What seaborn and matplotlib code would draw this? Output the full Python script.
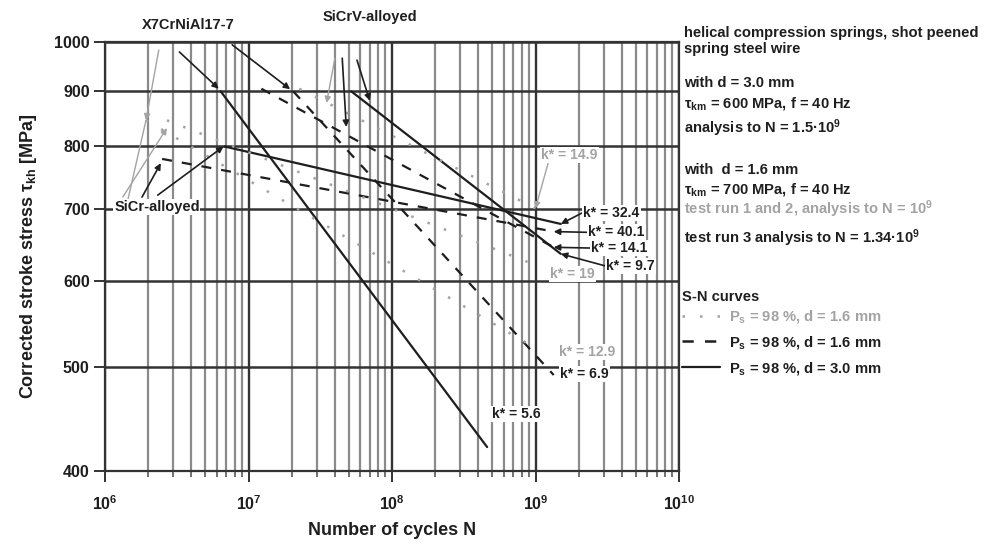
import numpy as np
import pandas as pd
import matplotlib
matplotlib.use("Agg")
import matplotlib.pyplot as plt
import seaborn as sns
from matplotlib.lines import Line2D
from matplotlib.ticker import FixedLocator, NullLocator, LogLocator, NullFormatter

# ---------------- data ----------------
# S-N curves: endpoints (N in cycles, tau in MPa)
N_solid_X7 = [6.4e6, 4.6e8]
tau_solid_X7 = [900, 421]
N_solid_SiCr = [6.8e6, 1.5e9]
tau_solid_SiCr = [800, 678]
N_solid_SiCrV = [5.2e7, 1.5e9]
tau_solid_SiCrV = [900, 636]

N_dash_SiCr = [2.5e6, 1.34e9]
tau_dash_SiCr = [779, 667]
N_dash_SiCrV = [1.23e7, 1.34e9]
tau_dash_SiCrV = [905, 645]
N_dash_X7 = [2.05e7, 1.34e9]
tau_dash_X7 = [900, 491]

N_dot_SiCr = [2.7e6, 1.0e9]
tau_dot_SiCr = [846, 621]
N_dot_SiCrV = [2.26e7, 1.0e9]
tau_dot_SiCrV = [905, 701]
N_dot_X7 = [1.93e6, 1.0e9]
tau_dot_X7 = [846, 520]

# k* labels
k_text = ["32.4", "40.1", "14.1", "9.7", "14.9", "19", "12.9", "6.9", "5.6"]
k_N = [2.15e9, 2.33e9, 2.45e9, 3.11e9, 1.10e9, 1.27e9, 1.45e9, 1.49e9, 4.94e8]
k_tau = [694, 666, 644, 620, 786, 609, 516, 492, 452]
k_gray = [False, False, False, False, True, True, True, False, False]

x_ticks = [1e6, 1e7, 1e8, 1e9, 1e10]
x_exps = [6, 7, 8, 9, 10]
y_ticks = [400, 500, 600, 700, 800, 900, 1000]

BLACK = "#1e1e1e"
GRAY = "#a3a3a3"

rows = []
for name, style, Ns, ts in [
    ("solid X7", "solid", N_solid_X7, tau_solid_X7),
    ("solid SiCr", "solid", N_solid_SiCr, tau_solid_SiCr),
    ("solid SiCrV", "solid", N_solid_SiCrV, tau_solid_SiCrV),
    ("dash SiCr", "dash", N_dash_SiCr, tau_dash_SiCr),
    ("dash SiCrV", "dash", N_dash_SiCrV, tau_dash_SiCrV),
    ("dash X7", "dash", N_dash_X7, tau_dash_X7),
    ("dot SiCr", "dot", N_dot_SiCr, tau_dot_SiCr),
    ("dot SiCrV", "dot", N_dot_SiCrV, tau_dot_SiCrV),
    ("dot X7", "dot", N_dot_X7, tau_dot_X7),
]:
    for n, t in zip(Ns, ts):
        rows.append({"curve": name, "style": style, "N": n, "tau": t})
df = pd.DataFrame(rows)

# ---------------- style ----------------
sns.set_theme(style="white")
plt.rcParams["font.family"] = ["Liberation Sans", "DejaVu Sans"]
plt.rcParams["font.weight"] = "bold"
plt.rcParams["axes.labelweight"] = "bold"
plt.rcParams["mathtext.fontset"] = "custom"
plt.rcParams["mathtext.rm"] = "Liberation Sans:bold"
plt.rcParams["mathtext.bf"] = "Liberation Sans:bold"
plt.rcParams["mathtext.it"] = "Liberation Sans:bold"
plt.rcParams["text.color"] = BLACK

fig = plt.figure(figsize=(9.9, 5.48), dpi=100)
ax = fig.add_axes([105 / 990, 1 - 471 / 548, (679 - 105) / 990, (471 - 42) / 548])
ax.set_xscale("log")
ax.set_yscale("log")
ax.set_xlim(1e6, 1e10)
ax.set_ylim(400, 1000)

# grid
ax.xaxis.set_major_locator(FixedLocator(x_ticks))
ax.xaxis.set_minor_locator(LogLocator(base=10, subs=np.arange(2, 10)))
ax.xaxis.set_minor_formatter(NullFormatter())
ax.yaxis.set_major_locator(FixedLocator(y_ticks))
ax.yaxis.set_minor_locator(NullLocator())
ax.grid(which="minor", axis="x", color="#8a8a8a", lw=1.6, zorder=0)
ax.grid(which="major", axis="x", color="#333333", lw=1.7, zorder=0)
ax.grid(which="major", axis="y", color="#333333", lw=1.8, zorder=0)
ax.set_axisbelow(True)
for s in ax.spines.values():
    s.set_color("#333333")
    s.set_linewidth(1.6)

ax.set_xticks(x_ticks)
ax.set_xticklabels([r"10$^{%d}$" % e for e in x_exps])
ax.set_yticks(y_ticks)
ax.set_yticklabels([str(v) for v in y_ticks])
ax.tick_params(axis="both", which="major", direction="out", length=8, width=1.4,
               color="#333333", labelsize=11.5, labelcolor=BLACK, pad=3,
               bottom=True, left=True)
ax.tick_params(axis="x", which="minor", direction="out", length=4, width=1.2,
               color="#5a5a5a", bottom=True)
ax.tick_params(axis="x", which="major", pad=9)

# curves
for name, sub in df.groupby("curve", sort=False):
    st = sub["style"].iloc[0]
    if st == "solid":
        kw = dict(color=BLACK, lw=1.6, linestyle="-")
    elif st == "dash":
        kw = dict(color=BLACK, lw=1.6, linestyle=(0, (4.5, 4.5)))
    else:
        kw = dict(color=GRAY, lw=1.8, linestyle=(0, (1, 6)))
    sns.lineplot(data=sub, x="N", y="tau", ax=ax, estimator=None, sort=False,
                 legend=False, zorder=3, **kw)

# annotation arrows
def arrow(tail, tip, color=BLACK, head=True, lw=1.2):
    ax.annotate("", xy=tip, xytext=tail, xycoords="data", textcoords="data",
                arrowprops=dict(arrowstyle="-|>" if head else "-", color=color,
                                lw=lw, mutation_scale=9, shrinkA=0, shrinkB=0),
                annotation_clip=False, zorder=4)

# material labels
ax.text(3.8e6, 1037, "X7CrNiAl17-7", ha="center", va="center", fontsize=10.5,
        color=BLACK, clip_on=False)
ax.text(7.0e7, 1055, "SiCrV-alloyed", ha="center", va="center", fontsize=10.5,
        color=BLACK, clip_on=False)
ax.text(2.3e6, 703, "SiCr-alloyed", ha="center", va="center", fontsize=10.5,
        color=BLACK, zorder=5,
        bbox=dict(boxstyle="square,pad=0.05", fc="white", ec="none"))

# X7 arrows
arrow((3.3e6, 979), (6.2e6, 905))
arrow((7.7e6, 994), (1.95e7, 904))
arrow((2.37e6, 983), (1.93e6, 846), color=GRAY, lw=1.0)
arrow((1.93e6, 846), (1.44e6, 713), color=GRAY, head=False, lw=1.0)
# SiCr arrows
arrow((1.33e6, 718), (2.7e6, 832), color=GRAY, lw=1.0)
arrow((1.81e6, 718), (2.45e6, 772))
arrow((2.33e6, 721), (6.7e6, 800))
# SiCrV arrows
arrow((4.0e7, 966), (3.5e7, 878), color=GRAY, lw=1.0)
arrow((4.5e7, 966), (4.8e7, 834))
arrow((5.7e7, 962), (7.0e7, 882))

# k* labels with arrows to the curve ends
ends = {"32.4": (N_solid_SiCr[-1], tau_solid_SiCr[-1]),
        "40.1": (N_dash_SiCr[-1], tau_dash_SiCr[-1]),
        "14.1": (N_dash_SiCrV[-1], tau_dash_SiCrV[-1]),
        "9.7": (N_solid_SiCrV[-1], tau_solid_SiCrV[-1]),
        "14.9": (N_dot_SiCrV[-1], tau_dot_SiCrV[-1])}
for t, n, tau, g in zip(k_text, k_N, k_tau, k_gray):
    col = GRAY if g else BLACK
    ax.text(n, tau, "k* = " + t, ha="left", va="center", fontsize=10,
            color=col, zorder=6, clip_on=False,
            bbox=dict(boxstyle="square,pad=0.08", fc="white", ec="none"))
    if t in ends:
        if t == "14.9":
            arrow((n * 1.12, tau * 0.985), ends[t], color=GRAY, lw=1.0)
        else:
            arrow((n * 0.98, tau), ends[t])

# axis labels
ax.set_xlabel("Number of cycles N", fontsize=13, color=BLACK, fontweight="bold")
ax.set_ylabel("Corrected stroke stress τ$_{\\rm kh}$ [MPa]", fontsize=13,
              color=BLACK, fontweight="bold")
ax.xaxis.set_label_coords(0.5, -0.118)
ax.yaxis.set_label_coords(-0.115, 0.5)

# right-hand text block
tx = 684 / 990
def ftext(ypix, s, color=BLACK):
    fig.text(tx, 1 - ypix / 548, s, ha="left", va="center", fontsize=10.6, color=color)

ftext(33, "helical compression springs, shot peened")
ftext(49, "spring steel wire")
ftext(83, "with d = 3.0 mm")
ftext(103, "τ$_{\\rm km}$ = 600 MPa, f = 40 Hz")
ftext(128, "analysis to N = 1.5·10$^{9}$")
ftext(170, "with  d = 1.6 mm")
ftext(189, "τ$_{\\rm km}$ = 700 MPa, f = 40 Hz")
ftext(209, "test run 1 and 2, analysis to N = 10$^{9}$", color=GRAY)
ftext(238, "test run 3 analysis to N = 1.34·10$^{9}$")

handles = [Line2D([], [], color=GRAY, lw=1.8, linestyle=(0, (1, 6))),
           Line2D([], [], color=BLACK, lw=1.8, linestyle=(0, (4.5, 4.5))),
           Line2D([], [], color=BLACK, lw=1.6, linestyle="-")]
labels = ["P$_{\\rm s}$ = 98 %, d = 1.6 mm", "P$_{\\rm s}$ = 98 %, d = 1.6 mm",
          "P$_{\\rm s}$ = 98 %, d = 3.0 mm"]
leg = ax.legend(handles, labels, loc="upper left",
                bbox_to_anchor=(682 / 990, 1 - 290 / 548),
                bbox_transform=fig.transFigure, frameon=False,
                title="S-N curves", alignment="left", handlelength=2.6,
                handletextpad=0.6, labelspacing=0.6, borderpad=0,
                borderaxespad=0, fontsize=10.6,
                title_fontproperties={"weight": "bold", "size": 10.6})
leg.get_texts()[0].set_color(GRAY)
leg._legend_box.sep = 3

fig.savefig("out.png", dpi=100)
